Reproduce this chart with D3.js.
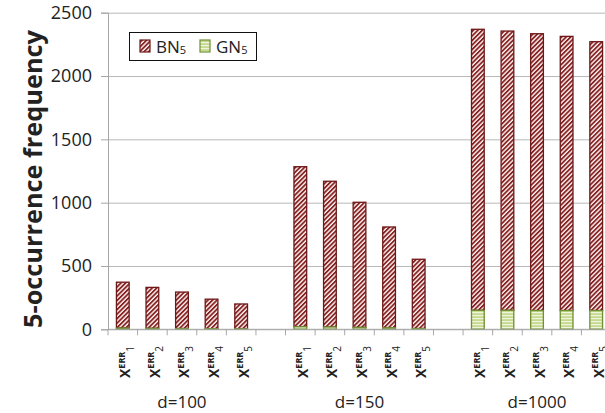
<!DOCTYPE html>
<html><head><meta charset="utf-8">
<script src="https://cdn.jsdelivr.net/npm/d3@7"></script>
<style>
body{margin:0;background:#fff;}
svg{display:block;}
text{font-family:"Open Sans",sans-serif;fill:#222;}
</style></head>
<body><svg id="c" width="605" height="413"></svg>
<script>
const groups = ["d=100","d=150","d=1000"];
const xLabelIdx = ["1","2","3","4","5"];
const gnValues = [[10,8,6,5,4],[20,18,15,12,6],[150,150,148,148,148]];
const bnValues = [[362,323,288,233,196],[1264,1151,988,796,547],[2219,2205,2186,2165,2123]];
const yTicks = [0,500,1000,1500,2000,2500];
const seriesNames = ["BN","GN"];

const svg = d3.select("#c");
const W=605,H=413;
const mLeft=108, mRight=611, mTop=12.7, mBottom=329.3;

const slots=[];
groups.forEach((g,gi)=>{
  xLabelIdx.forEach((l,li)=>slots.push({g:gi,i:li,key:gi+"-"+li}));
  if(gi<groups.length-1) slots.push({gap:true,key:"gap"+gi});
});
const x=d3.scaleBand().domain(slots.map(s=>s.key)).range([mLeft,mRight]).padding(0);
const y=d3.scaleLinear().domain([0,2500]).range([mBottom,mTop]);
const step=x.step(), bw=step*0.43;

const defs=svg.append("defs");
const pBN=defs.append("pattern").attr("id","hatchBN").attr("patternUnits","userSpaceOnUse")
  .attr("width",3.2).attr("height",3.2).attr("patternTransform","rotate(45)");
pBN.append("rect").attr("width",3.2).attr("height",3.2).attr("fill","#fdf3f3");
pBN.append("rect").attr("width",1.8).attr("height",3.2).attr("fill","#862424");
const pGN=defs.append("pattern").attr("id","hatchGN").attr("patternUnits","userSpaceOnUse")
  .attr("width",4).attr("height",3);
pGN.append("rect").attr("width",4).attr("height",3).attr("fill","#c5d98f");
pGN.append("rect").attr("width",4).attr("height",1.2).attr("fill","#eef5dc");

svg.append("g").attr("transform",`translate(${mLeft},0)`)
  .call(d3.axisLeft(y).tickValues(yTicks).tickSize(-(W-mLeft)).tickFormat(""))
  .call(g=>g.select(".domain").remove())
  .call(g=>g.selectAll("line").attr("stroke","#b8b8b8"));
svg.append("g").attr("transform",`translate(${mLeft},0)`)
  .call(d3.axisLeft(y).tickValues(yTicks).tickSize(7).tickPadding(9).tickFormat(d3.format("d")))
  .call(g=>g.select(".domain").attr("stroke","#a6a6a6"))
  .call(g=>g.selectAll("line").attr("stroke","#a6a6a6"))
  .call(g=>g.selectAll("text").style("font-size","18px").attr("fill","#222").style("font-family","Open Sans"));

const bars=svg.append("g");
slots.filter(s=>!s.gap).forEach(s=>{
  const gn=gnValues[s.g][s.i], bn=bnValues[s.g][s.i];
  const bx=x(s.key)+(step-bw)/2;
  bars.append("rect").attr("x",bx).attr("y",y(gn+bn)).attr("width",bw).attr("height",y(gn)-y(gn+bn))
    .attr("fill","url(#hatchBN)").attr("stroke","#6e1717").attr("stroke-width",1.3);
  bars.append("rect").attr("x",bx).attr("y",y(gn)).attr("width",bw).attr("height",y(0)-y(gn))
    .attr("fill","url(#hatchGN)").attr("stroke","#6f8f32").attr("stroke-width",1.3);
});

svg.append("line").attr("x1",mLeft).attr("x2",W).attr("y1",mBottom).attr("y2",mBottom).attr("stroke","#a6a6a6");
const bounds=slots.map(s=>x(s.key)).concat([x(slots[slots.length-1].key)+step]);
svg.selectAll(".xt").data(bounds).join("line").attr("class","xt")
  .attr("x1",d=>d).attr("x2",d=>d).attr("y1",mBottom).attr("y2",mBottom+6).attr("stroke","#a6a6a6");

slots.filter(s=>!s.gap).forEach(s=>{
  const cx=x(s.key)+step/2;
  const t=svg.append("text").attr("transform",`translate(${cx+7.5},346) rotate(-90)`)
    .attr("text-anchor","end").style("font-weight","bold");
  t.append("tspan").text("X").style("font-size","14px");
  t.append("tspan").text("ERR").attr("dy",-5.5).style("font-size","9px");
  t.append("tspan").text(xLabelIdx[s.i]).attr("dy",9).style("font-size","10px").style("font-weight","normal");
});

groups.forEach((g,gi)=>{
  const k=slots.filter(s=>!s.gap&&s.g===gi);
  const cx=(x(k[0].key)+x(k[k.length-1].key)+step)/2;
  svg.append("text").attr("x",cx).attr("y",408).attr("text-anchor","middle").style("font-size","17px").attr("fill","#333").text(g);
});

const yt=svg.append("text").attr("transform",`translate(42,179) rotate(-90)`).attr("text-anchor","middle")
  .style("font-weight","bold").style("font-size","20px").text("5-occurrence frequency");
const len=yt.node().getComputedTextLength();
yt.style("font-size",(20*298/len)+"px");

const lg=svg.append("g");
lg.append("rect").attr("x",129.5).attr("y",32.5).attr("width",127).attr("height",28).attr("fill","#fff").attr("stroke","#111");
const items=[{n:seriesNames[0],fill:"url(#hatchBN)",st:"#6e1717",x:140},{n:seriesNames[1],fill:"url(#hatchGN)",st:"#6f8f32",x:200}];
items.forEach(it=>{
  lg.append("rect").attr("x",it.x).attr("y",40).attr("width",10).attr("height",12).attr("fill",it.fill).attr("stroke",it.st).attr("stroke-width",1.2);
  const t=lg.append("text").attr("x",it.x+16).attr("y",53).style("font-size","17px");
  t.append("tspan").text(it.n);
  t.append("tspan").text("5").attr("dy",1).style("font-size","11px");
});
</script></body></html>
